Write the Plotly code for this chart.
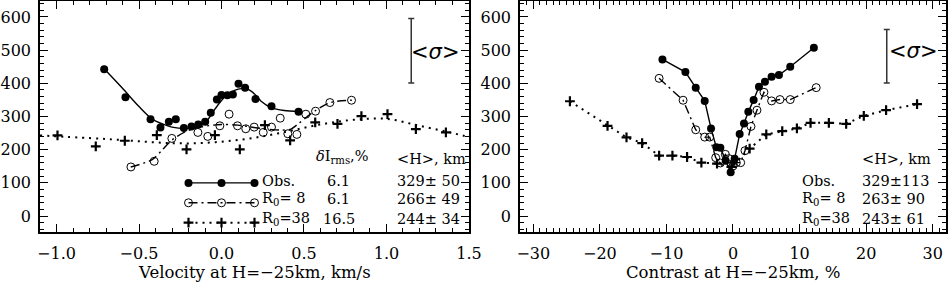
import plotly.graph_objects as go

# ---------------- Left panel: velocity ----------------
obs_v = [-0.711, -0.582, -0.430, -0.370, -0.319, -0.277, -0.228, -0.182, -0.141, -0.099,
         -0.065, -0.028, 0.0, 0.036, 0.069, 0.103, 0.143, 0.206, 0.303, 0.467]
obs_h = [442, 358, 292, 267, 284, 292, 265, 270, 276, 284,
         311, 351, 365, 364, 366, 399, 387, 353, 331, 314]
obs_fit_v = [-0.71, -0.6, -0.5, -0.42, -0.35, -0.3, -0.22, -0.15, -0.1, -0.04,
             0.0, 0.04, 0.08, 0.12, 0.16, 0.2, 0.24, 0.3, 0.38, 0.47]
obs_fit_h = [443, 385, 330, 292, 276, 268, 264, 268, 280, 322,
             348, 368, 379, 384, 382, 368, 346, 327, 318, 315]

r8_v = [-0.549, -0.408, -0.301, -0.143, -0.083, -0.010, 0.046, 0.097, 0.147, 0.198,
        0.253, 0.303, 0.356, 0.402, 0.457, 0.511, 0.570, 0.657, 0.788]
r8_h = [148, 165, 234, 252, 240, 272, 307, 272, 263, 268,
        252, 268, 295, 248, 246, 307, 316, 342, 349]
r8_fit_v = [-0.55, -0.42, -0.36, -0.3, -0.22, -0.12, 0.0, 0.1, 0.24, 0.36, 0.42, 0.47, 0.52, 0.57, 0.66, 0.79]
r8_fit_h = [148, 170, 199, 229, 254, 269, 276, 274, 264, 259, 262, 280, 300, 318, 342, 349]

r38_v = [-0.994, -0.762, -0.586, -0.392, -0.212, -0.040, 0.111, 0.263, 0.416, 0.568,
         0.703, 0.848, 1.006, 1.178, 1.360]
r38_h = [243, 210, 227, 244, 201, 244, 201, 274, 228, 282,
         278, 301, 307, 262, 252]
r38_fit_v = [-1.1, -0.8, -0.6, -0.4, -0.2, 0.0, 0.2, 0.4, 0.6, 0.8, 1.0, 1.2, 1.4, 1.5]
r38_fit_h = [243, 235, 229, 222, 219, 224, 236, 255, 276, 290, 293, 272, 250, 238]

# ---------------- Right panel: contrast ----------------
obs_c = [-10.6, -7.15, -5.6, -4.25, -3.3, -2.5, -1.9, -1.1, -0.35, 0.25,
         1.0, 1.65, 2.3, 3.1, 3.9, 4.8, 5.8, 6.9, 8.6, 12.15]
obs_ch = [472, 434, 387, 347, 264, 207, 206, 167, 132, 173,
          247, 279, 314, 350, 390, 405, 420, 425, 450, 507]

r8_c = [-11.1, -7.5, -5.6, -4.25, -3.5, -2.6, -1.9, -1.15, -0.6, 0.0,
        0.5, 1.15, 1.8, 2.7, 3.6, 4.65, 5.8, 7.05, 8.6, 12.5]
r8_ch = [415, 349, 260, 238, 238, 176, 160, 186, 173, 151,
         161, 161, 197, 270, 319, 373, 347, 351, 351, 387]

r38_c = [-24.5, -18.85, -16.0, -13.65, -11.1, -9.1, -6.9, -4.75, -2.4, -0.25,
         2.5, 5.0, 7.4, 9.6, 11.65, 14.4, 17.0, 19.65, 23.0, 27.65]
r38_ch = [346, 272, 237, 220, 182, 182, 178, 161, 158, 148,
          203, 246, 256, 264, 281, 281, 278, 302, 319, 337]

# error bars <sigma>
sig_left = dict(x=1.15, y=498, half=97)
sig_right = dict(x=23.1, y=481.5, half=80.5)

# legend table texts
rows = ["Obs.", "R<sub>0</sub>= 8", "R<sub>0</sub>=38"]
drms = ["6.1", "6.1", "16.5"]
h_left = ["329\u00b1 50", "266\u00b1 49", "244\u00b1 34"]
h_right = ["329\u00b1113", "263\u00b1 90", "243\u00b1 61"]
row_y = [105, 51, -8]
legend_x = [-0.2, 0.0, 0.2]
legend_y = [100, 40, -20]

FONT = "DejaVu Serif"
K = "black"

fig = go.Figure()

mk_obs = dict(symbol="circle", size=8, color=K)
mk_r8 = dict(symbol="circle-open", size=8, color=K, line=dict(width=1))
mk_r38 = dict(symbol="cross-thin", size=7, color=K, line=dict(width=2.2, color=K))

line_obs = dict(color=K, width=1.4)
line_r8 = dict(color=K, width=1.4, dash="9px,4px,2px,4px")
line_r38 = dict(color=K, width=2, dash="2px,5px")

# Left panel lines (fits)
fig.add_trace(go.Scatter(x=obs_fit_v, y=obs_fit_h, mode="lines", line=dict(**line_obs, shape="spline", smoothing=0.8), xaxis="x", yaxis="y"))
fig.add_trace(go.Scatter(x=r8_fit_v, y=r8_fit_h, mode="lines", line=dict(**line_r8, shape="spline", smoothing=0.8), xaxis="x", yaxis="y"))
fig.add_trace(go.Scatter(x=r38_fit_v, y=r38_fit_h, mode="lines", line=dict(**line_r38, shape="spline", smoothing=1.0), xaxis="x", yaxis="y"))
fig.add_trace(go.Scatter(x=obs_v, y=obs_h, mode="markers", marker=mk_obs, xaxis="x", yaxis="y"))
fig.add_trace(go.Scatter(x=r8_v, y=r8_h, mode="markers", marker=mk_r8, xaxis="x", yaxis="y"))
fig.add_trace(go.Scatter(x=r38_v, y=r38_h, mode="markers", marker=mk_r38, xaxis="x", yaxis="y"))

# Left legend samples
for i, (ln, mk) in enumerate(zip([line_obs, line_r8, line_r38], [mk_obs, mk_r8, mk_r38])):
    fig.add_trace(go.Scatter(x=legend_x, y=[legend_y[i]] * 3, mode="lines+markers",
                             line=ln, marker=mk, xaxis="x", yaxis="y"))

# Right panel
fig.add_trace(go.Scatter(x=obs_c, y=obs_ch, mode="lines+markers", line=line_obs, marker=mk_obs, xaxis="x2", yaxis="y2"))
fig.add_trace(go.Scatter(x=r8_c, y=r8_ch, mode="lines+markers", line=line_r8, marker=mk_r8, xaxis="x2", yaxis="y2"))
fig.add_trace(go.Scatter(x=r38_c, y=r38_ch, mode="lines+markers", line=line_r38, marker=mk_r38, xaxis="x2", yaxis="y2"))

# sigma bars
for sg, xa, ya in [(sig_left, "x", "y"), (sig_right, "x2", "y2")]:
    fig.add_trace(go.Scatter(x=[sg["x"]], y=[sg["y"]], mode="markers", marker=dict(size=1, color="rgba(0,0,0,0)"),
                             error_y=dict(type="data", array=[sg["half"]], color="#333", thickness=1.5, width=3),
                             xaxis=xa, yaxis=ya))

ann = []
tf = dict(family=FONT, size=14.5, color=K)
sf = dict(family="DejaVu Sans", size=21, color=K)
ann.append(dict(x=1.30, y=495, xref="x", yref="y", text="&lt;<i>σ</i>&gt;", showarrow=False, font=sf))
ann.append(dict(x=27.1, y=498, xref="x2", yref="y2", text="&lt;<i>σ</i>&gt;", showarrow=False, font=sf))
# left table
ann.append(dict(x=0.56, y=177, xref="x", yref="y", text="<i>δ</i>I<sub>rms</sub>,%", showarrow=False,
                xanchor="left", yanchor="middle", font=tf))
ann.append(dict(x=1.05, y=173, xref="x", yref="y", text="&lt;H&gt;, km", showarrow=False,
                xanchor="left", yanchor="middle", font=tf))
for i in range(3):
    ann.append(dict(x=0.235, y=row_y[i], xref="x", yref="y", text=rows[i], showarrow=False,
                    xanchor="left", yanchor="middle", font=tf))
    ann.append(dict(x=0.71, y=row_y[i], xref="x", yref="y", text=drms[i], showarrow=False,
                    xanchor="center", yanchor="middle", font=tf))
    ann.append(dict(x=1.05, y=row_y[i], xref="x", yref="y", text=h_left[i], showarrow=False,
                    xanchor="left", yanchor="middle", font=tf))
# right table
ann.append(dict(x=19.1, y=173, xref="x2", yref="y2", text="&lt;H&gt;, km", showarrow=False,
                xanchor="left", yanchor="middle", font=tf))
for i in range(3):
    ann.append(dict(x=10.0, y=row_y[i], xref="x2", yref="y2", text=rows[i], showarrow=False,
                    xanchor="left", yanchor="middle", font=tf))
    ann.append(dict(x=19.1, y=row_y[i], xref="x2", yref="y2", text=h_right[i], showarrow=False,
                    xanchor="left", yanchor="middle", font=tf))

# axis titles (as paper annotations, close under tick labels)
ann.append(dict(x=0.4735 / 2, y=-0.177, xref="paper", yref="paper", text="Velocity at H=\u221225km, km/s",
                showarrow=False, xanchor="center", yanchor="middle", font=dict(family=FONT, size=16.5, color=K)))
ann.append(dict(x=(0.5298 + 1) / 2, y=-0.177, xref="paper", yref="paper", text="Contrast at H=\u221225km, %",
                showarrow=False, xanchor="center", yanchor="middle", font=dict(family=FONT, size=16.5, color=K)))

def axis(**kw):
    d = dict(showline=True, linecolor=K, linewidth=1.5, mirror="allticks", ticks="inside",
             ticklen=8, tickwidth=1.2, tickcolor=K, showgrid=False, zeroline=False, automargin=False,
             tickfont=dict(family=FONT, size=16, color=K))
    d.update(kw)
    return d

fig.update_layout(
    template="none",
    width=949, height=284,
    margin=dict(l=40, r=3, t=1, b=52, pad=0),
    paper_bgcolor="white", plot_bgcolor="white",
    showlegend=False,
    font=dict(family=FONT, color=K),
    xaxis=axis(domain=[0, 0.4735], range=[-1.1, 1.5], tick0=0, dtick=0.5, tickformat=".1f",
               minor=dict(ticks="inside", ticklen=4, tickcolor=K, tickwidth=1, dtick=0.1, tick0=0, showgrid=False),
               anchor="y", ticklabelstandoff=6),
    yaxis=axis(domain=[0, 1], range=[-48, 648], tick0=0, dtick=100,
               minor=dict(ticks="inside", ticklen=4, tickcolor=K, tickwidth=1, dtick=20, tick0=0, showgrid=False),
               anchor="x", ticklabelstandoff=4),
    xaxis2=axis(domain=[0.5298, 1], range=[-32, 32], tick0=0, dtick=10,
                minor=dict(ticks="inside", ticklen=4, tickcolor=K, tickwidth=1, dtick=1, tick0=0, showgrid=False),
                anchor="y2", ticklabelstandoff=6),
    yaxis2=axis(domain=[0, 1], range=[-48, 648], tick0=0, dtick=100,
                minor=dict(ticks="inside", ticklen=4, tickcolor=K, tickwidth=1, dtick=20, tick0=0, showgrid=False),
                anchor="x2", ticklabelstandoff=4),
    annotations=ann,
)

fig.write_html("out.html", config={"displayModeBar": False},
               post_script="document.body.style.margin='0';document.body.style.padding='0';document.body.style.overflow='hidden';")
